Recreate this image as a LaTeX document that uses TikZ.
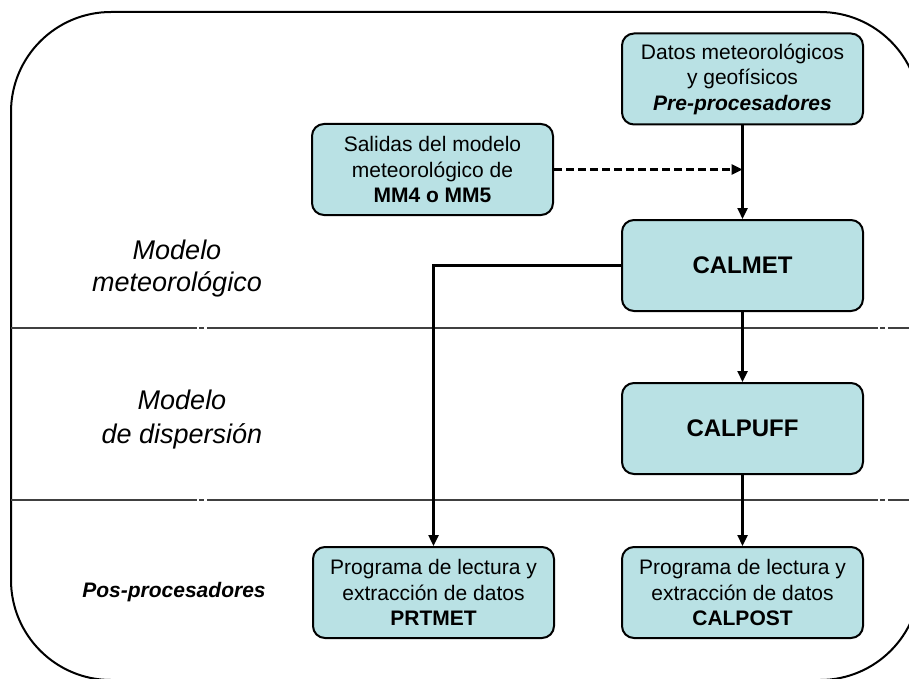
\documentclass[tikz,border=0pt]{standalone}
\usepackage{fontspec}
\setmainfont{Liberation Sans}
\usetikzlibrary{arrows.meta}
\definecolor{boxfill}{RGB}{185,225,228}
\tikzset{
  box/.style={draw, fill=boxfill, rounded corners=12pt, minimum width=241pt, minimum height=91pt,
    align=center, inner sep=0pt, line width=2pt, font=\fontsize{21}{25.5}\selectfont},
  bigbox/.style={box, font=\fontsize{24}{28}\selectfont\bfseries},
  arr/.style={line width=2.4pt, -{Triangle[length=11pt,width=10pt]}},
  darr/.style={arr, dash pattern=on 8pt off 4pt},
  divider/.style={line width=2.2pt, black!75, dash pattern=on 186pt off 2pt on 5pt off 3pt on 671pt off 2pt on 5pt off 3pt on 60pt},
  lbl/.style={align=center, font=\fontsize{27}{32}\selectfont\itshape},
}
\begin{document}
\begin{tikzpicture}[x=1pt,y=-1pt]
\useasboundingbox (0,0) rectangle (909,679);
\clip (0,0) rectangle (909,679);
\draw[line width=2pt, rounded corners=100pt] (11,12) rectangle (920,680);
\draw[divider] (11,328) -- (909,328);
\draw[divider] (11,500) -- (909,500);

\node[box] (datos) at (742.5,79) {Datos meteorológicos\\y geofísicos\\\textbf{\textit{Pre-procesadores}}};
\node[box] (salidas) at (432.5,169.5) {Salidas del modelo\\meteorológico de\\\textbf{MM4 o MM5}};
\node[bigbox] (calmet) at (742.5,265.5) {CALMET};
\node[bigbox] (calpuff) at (742.5,428.5) {CALPUFF};
\node[box] (prtmet) at (433.5,592.5) {Programa de lectura y\\extracción de datos\\\textbf{PRTMET}};
\node[box] (calpost) at (742.5,592.5) {Programa de lectura y\\extracción de datos\\\textbf{CALPOST}};

\node[lbl] (lmet) at (177,269) {Modelo\\meteorológico};
\node[lbl, font=\fontsize{27}{34}\selectfont\itshape] (ldisp) at (182,420) {Modelo\\de dispersión};
\node[font=\fontsize{21}{25}\selectfont\bfseries\itshape] (lpos) at (174,592) {Pos-procesadores};

\coordinate (j) at (datos.south |- salidas.east);
\draw[arr] (datos.south) -- (calmet.north);
\draw[darr] (salidas.east) -- (j);
\draw[arr] (calmet.west) -| (prtmet.north);
\draw[arr] (calmet.south) -- (calpuff.north);
\draw[arr] (calpuff.south) -- (calpost.north);
\end{tikzpicture}
\end{document}
